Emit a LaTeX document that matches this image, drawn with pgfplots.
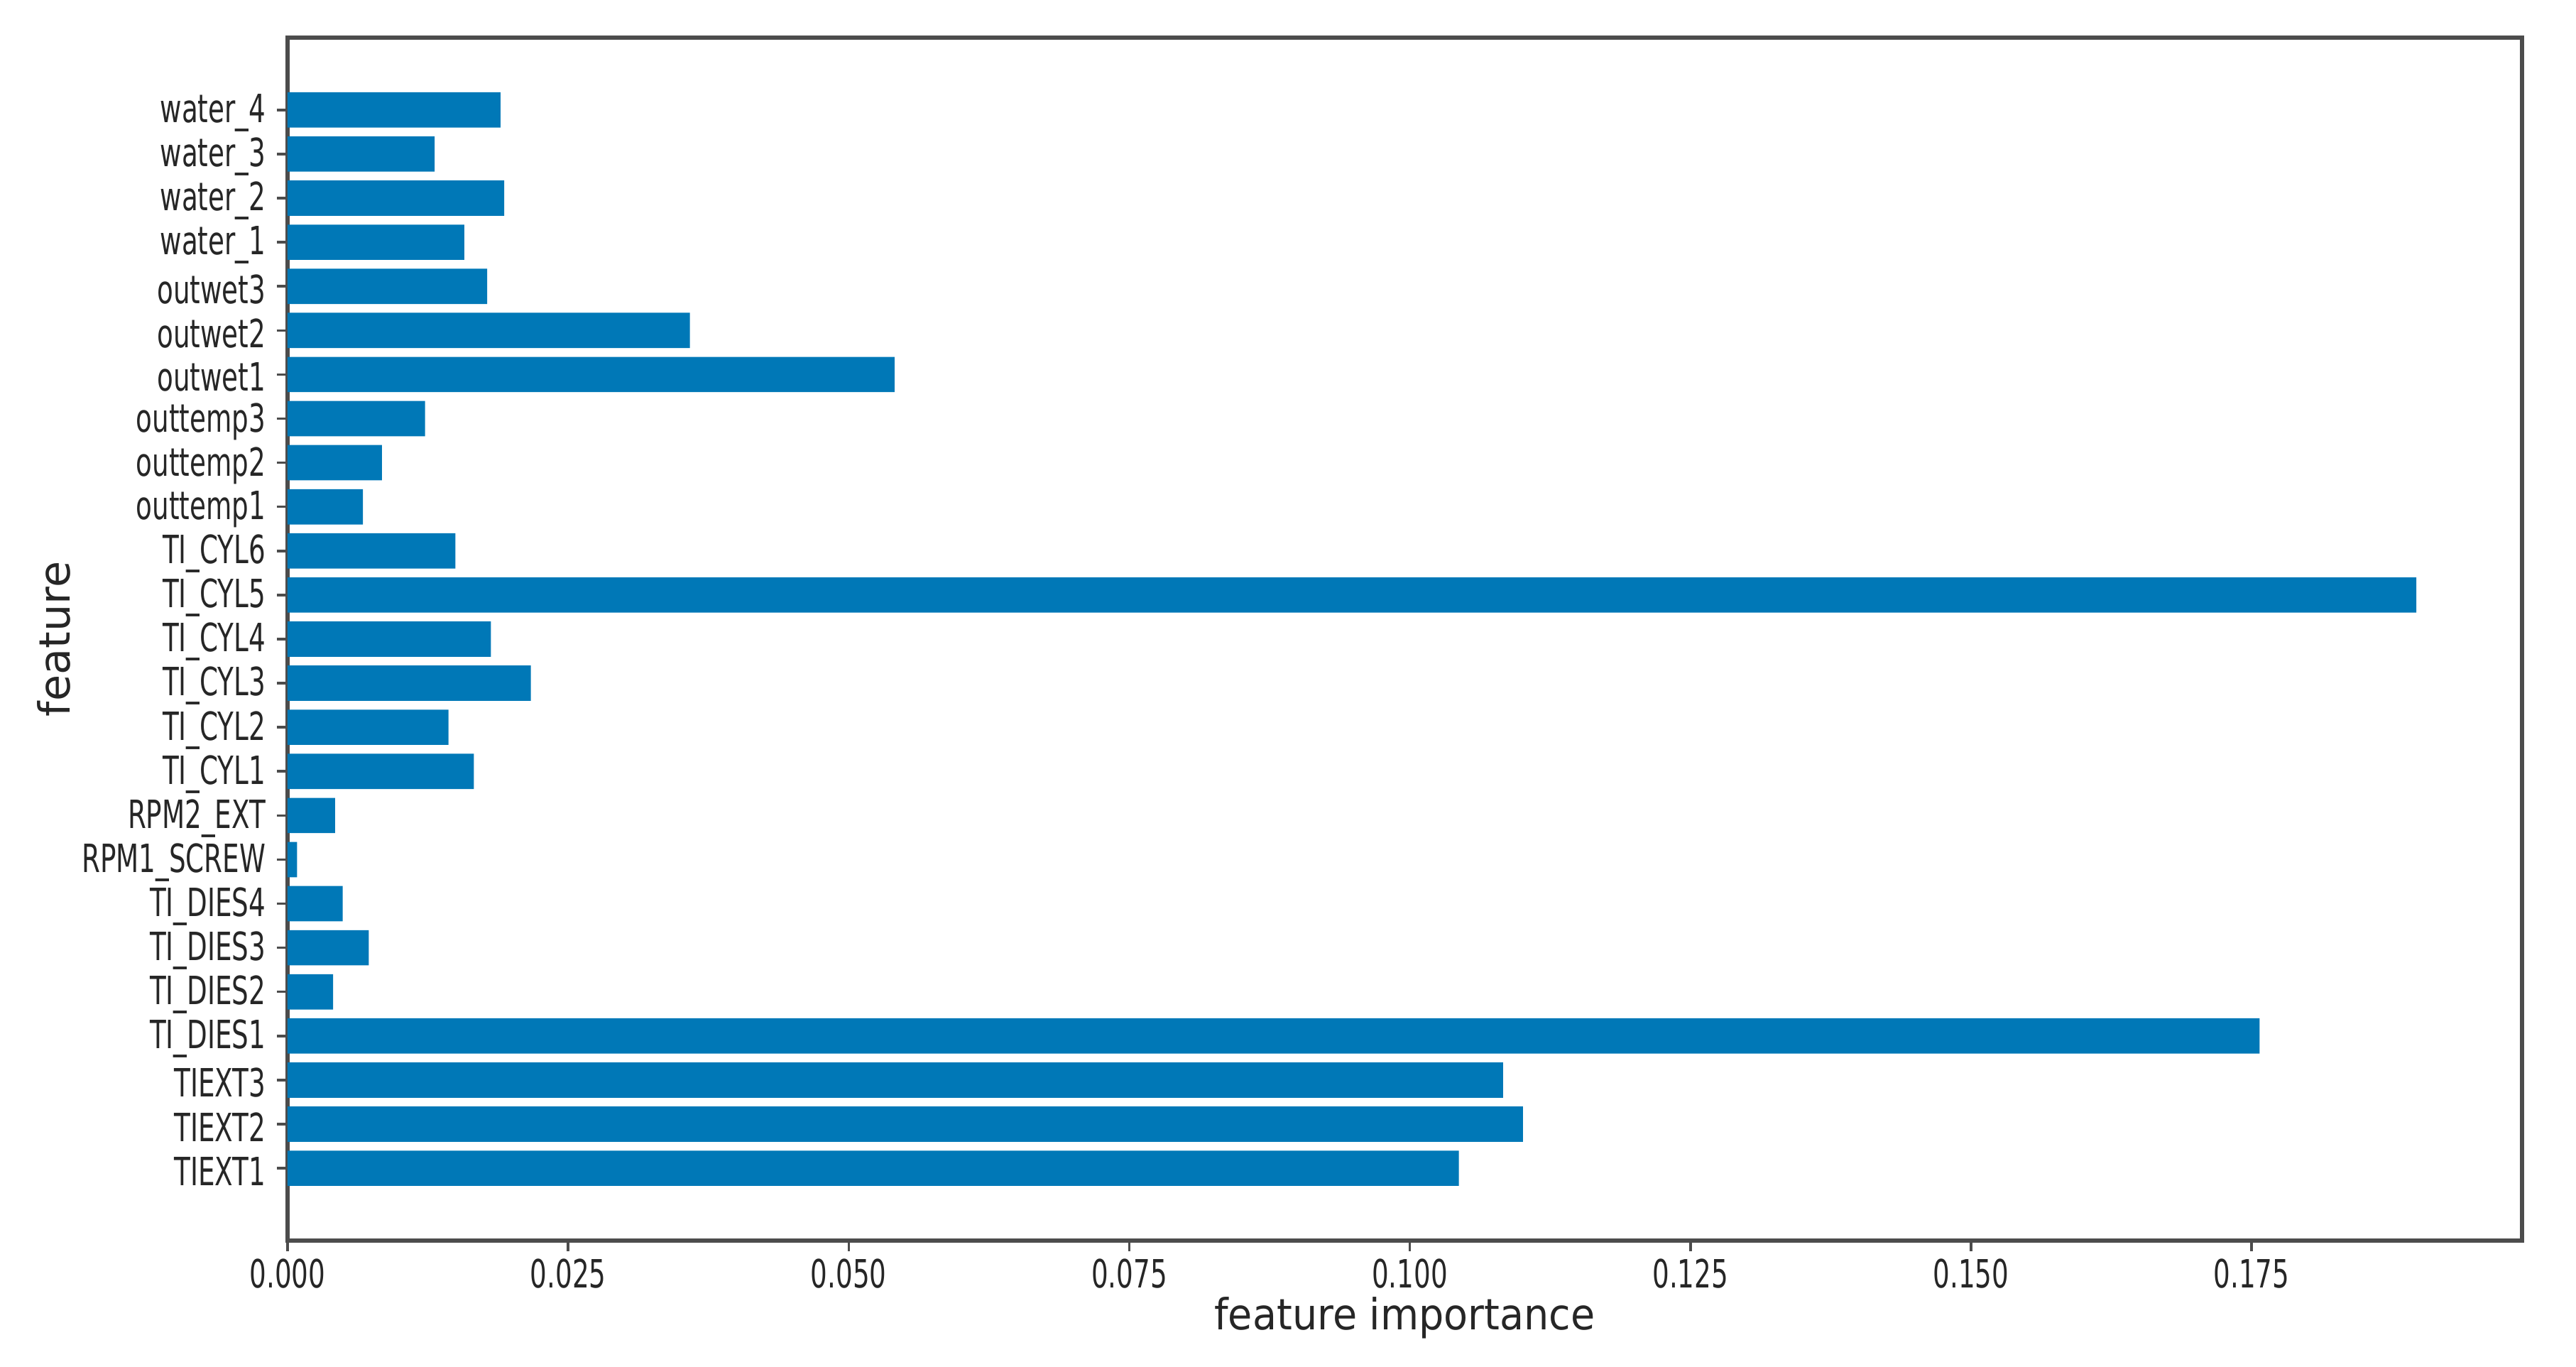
\documentclass[border=0pt]{standalone}
\usepackage{fontspec}
\setmainfont{DejaVu Sans}
\newfontfamily\tickfont{DejaVu Sans}[FakeStretch=0.68]
\newfontfamily\xlabfont{DejaVu Sans}[FakeStretch=0.92]
\usepackage{pgfplots}
\pgfplotsset{compat=1.18}
\definecolor{barblue}{RGB}{0,120,183}
\begin{document}
\begin{tikzpicture}
\begin{axis}[
  scale only axis,
  width=15.735cm, height=8.47cm,
  xmin=0, xmax=0.1991, ymin=-1.64, ymax=25.64,
  xbar, bar width=0.8,
  xtick={0,0.025,0.05,0.075,0.1,0.125,0.15,0.175},
  xticklabels={0.000,0.025,0.050,0.075,0.100,0.125,0.150,0.175},
  ytick={0,1,...,24},
  yticklabels={TIEXT1,TIEXT2,TIEXT3,TI\_DIES1,TI\_DIES2,TI\_DIES3,TI\_DIES4,RPM1\_SCREW,RPM2\_EXT,TI\_CYL1,TI\_CYL2,TI\_CYL3,TI\_CYL4,TI\_CYL5,TI\_CYL6,outtemp1,outtemp2,outtemp3,outwet1,outwet2,outwet3,water\_1,water\_2,water\_3,water\_4},
  tick label style={font=\tickfont\fontsize{7.8}{9}\selectfont, text=black!85},
  tick align=outside, major tick length=0.075cm, tick pos=left,
  tick style={black!70, line width=0.5pt},
  axis line style={black!70, line width=0.8pt},
  xticklabel style={yshift=0.07cm},
  yticklabel style={xshift=0.045cm, yshift=-0.02cm},
  xlabel={feature importance}, ylabel={feature},
  x label style={font=\xlabfont\fontsize{8.6}{10}\selectfont, text=black!85,
    at={(axis description cs:0.5,-0.0643)}, anchor=center},
  y label style={font=\fontsize{8.6}{10}\selectfont, text=black!85,
    at={(axis description cs:-0.1045,0.5)}, anchor=center},
]
\addplot[draw=none, fill=barblue] coordinates {
(0.10436,0) (0.11007,1) (0.10831,2) (0.17572,3) (0.00406,4) (0.00723,5) (0.00491,6)
(0.00085,7) (0.00423,8) (0.0166,9) (0.01434,10) (0.02168,11) (0.01812,12) (0.18968,13)
(0.01496,14) (0.00672,15) (0.00841,16) (0.01225,17) (0.05409,18) (0.03585,19) (0.01778,20)
(0.01575,21) (0.01931,22) (0.0131,23) (0.01897,24)
};
\end{axis}
\pgfresetboundingbox
\path (current axis.south west) ++(-2.025cm,-0.89cm) coordinate (bl);
\path (current axis.north east) ++(0.38cm,0.265cm) coordinate (tr);
\path (bl) rectangle (tr);
\end{tikzpicture}
\end{document}
